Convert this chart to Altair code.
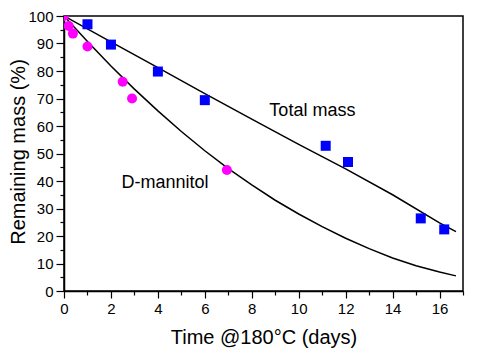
import altair as alt
import pandas as pd

# Data
total_t = [1.0, 2.0, 4.0, 6.0, 11.15, 12.1, 15.2, 16.2]
total_y = [97.0, 89.6, 79.8, 69.4, 52.8, 46.9, 26.4, 22.4]

mann_t = [0.0, 0.2, 0.38, 1.0, 2.5, 2.9, 6.94]
mann_y = [100.0, 96.4, 93.6, 88.9, 76.1, 70.0, 44.0]

fit_total_t = [0, 2, 4, 6, 8, 10, 12, 14, 16, 16.7]
fit_total_y = [100, 90.6, 81.2, 71.8, 62.5, 53.3, 44.4, 35.0, 24.8, 21.6]

fit_mann_t = [0, 1, 2, 3, 4, 5, 6, 7, 8, 9, 10, 11, 12, 13, 14, 15, 16, 16.7]
fit_mann_y = [100, 90.7, 81.8, 73.4, 65.5, 58.0, 51.0, 44.5, 38.6, 33.0,
              28.0, 23.4, 19.2, 15.4, 12.0, 9.2, 6.9, 5.5]

label_text = ["Total mass", "D-mannitol"]
label_t = [8.75, 2.45]
label_y = [65.3, 39.4]

x_ticks = list(range(0, 18))
y_ticks = list(range(0, 101, 5))

FONT = "Liberation Sans"
W, H = 399, 275

xscale = alt.Scale(domain=[0, 17], nice=False, zero=False)
yscale = alt.Scale(domain=[0, 100], nice=False)

common = dict(
    grid=False, labelFontSize=15, titleFontSize=20, tickColor="black",
    domainColor="black", labelColor="black", titleColor="black",
    titleFontWeight="normal", labelFont=FONT, titleFont=FONT,
    tickWidth=1.2, domainWidth=1.5, labelFlush=False, labelOverlap=False,
)

xaxis = alt.Axis(
    values=x_ticks,
    labelExpr="datum.value % 2 === 0 ? datum.label : ''",
    tickSize={"condition": {"test": "datum.value % 2 === 0", "value": 7}, "value": 4},
    labelPadding=3, titleX=W / 2, titleY=46, titleBaseline="middle", titleAlign="center",
    title="Time @180°C (days)", **common,
)
yaxis = alt.Axis(
    values=y_ticks,
    labelExpr="datum.value % 10 === 0 ? datum.label : ''",
    tickSize={"condition": {"test": "datum.value % 10 === 0", "value": 8}, "value": 4},
    labelPadding=3, titleX=-46, titleY=H / 2 - 2, titleAngle=-90, titleBaseline="middle",
    titleAlign="center", title="Remaining mass (%)", **common,
)

df_total = pd.DataFrame({"t": total_t, "y": total_y})
df_mann = pd.DataFrame({"t": mann_t, "y": mann_y})
df_ft = pd.DataFrame({"t": fit_total_t, "y": fit_total_y})
df_fm = pd.DataFrame({"t": fit_mann_t, "y": fit_mann_y})
df_lab = pd.DataFrame({"t": label_t, "y": label_y, "text": label_text})

base_x = alt.X("t:Q", scale=xscale, axis=xaxis)
base_y = alt.Y("y:Q", scale=yscale, axis=yaxis)

line_t = alt.Chart(df_ft).mark_line(color="black", strokeWidth=1.5, clip=True).encode(x=base_x, y=base_y)
line_m = alt.Chart(df_fm).mark_line(color="black", strokeWidth=1.5, clip=True).encode(x=base_x, y=base_y)
pts_t = alt.Chart(df_total).mark_square(color="#0000FF", opacity=1, size=100).encode(x=base_x, y=base_y)
pts_m = alt.Chart(df_mann).mark_circle(color="#FF00FF", opacity=1, size=100, clip=True).encode(x=base_x, y=base_y)
labels = alt.Chart(df_lab).mark_text(
    align="left", baseline="middle", fontSize=18, font=FONT, color="black"
).encode(x=base_x, y=base_y, text="text:N")

chart = (
    alt.layer(line_t, line_m, pts_t, pts_m, labels)
    .properties(
        width=W, height=H,
        autosize=alt.AutoSizeParams(type="none"),
        padding={"left": 56, "top": 8, "right": 11, "bottom": 62},
        background="white",
    )
    .configure_view(stroke="black", strokeWidth=1.5)
)

chart.save("out.html", embed_options={"renderer": "svg", "actions": False})
